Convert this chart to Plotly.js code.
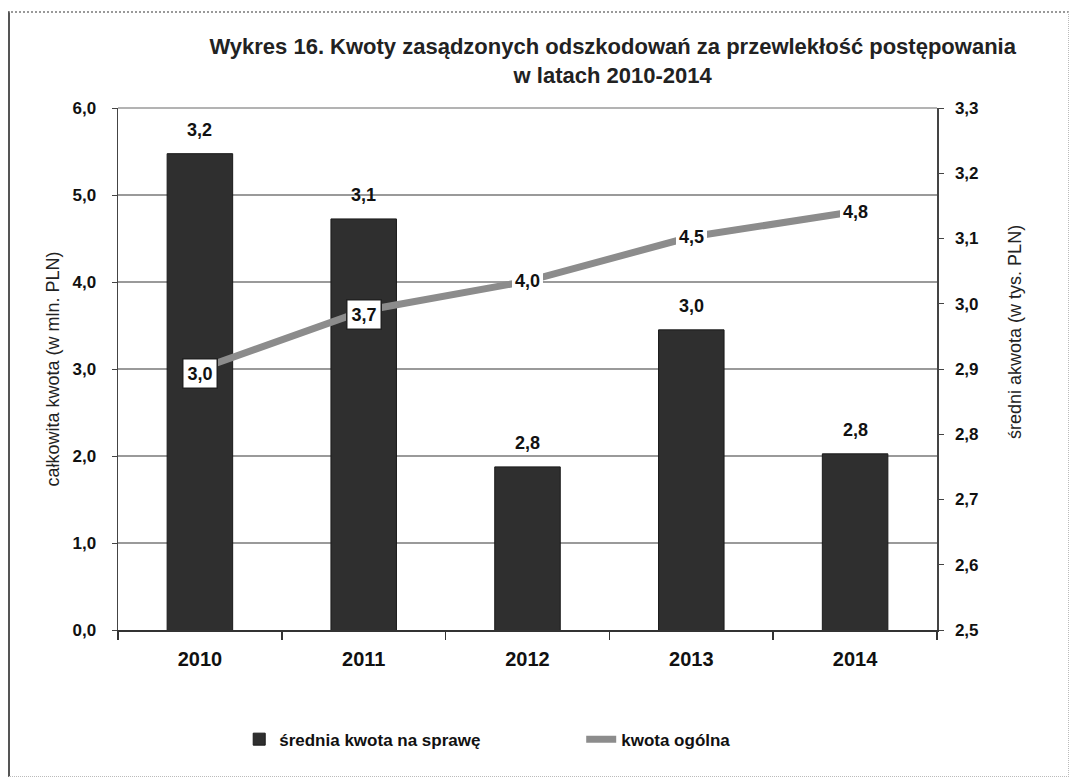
<!DOCTYPE html>
<html>
<head>
<meta charset="utf-8">
<script src="https://cdn.plot.ly/plotly-3.0.1.min.js"></script>
<style>
  html, body { margin: 0; padding: 0; background: #fff; }
  #wrap { position: relative; width: 1074px; height: 782px; }
  #chart { position: absolute; left: 0; top: 0; width: 1074px; height: 782px; }
  #frame { position: absolute; left: 8px; top: 11px; width: 1058px; height: 763px;
           border-left: 2px solid #555; border-top: 2px dotted #999; border-right: 1px dotted #bbb; border-bottom: 1px dotted #bbb; pointer-events: none; }
</style>
</head>
<body>
<div id="wrap">
<div id="chart"></div>
<div id="frame"></div>
</div>
<script>
// Data
const years = ['2010', '2011', '2012', '2013', '2014'];
const sredniaKwota = [3.23, 3.13, 2.75, 2.96, 2.77];   // right axis, tys. PLN
const kwotaOgolna = [3.0, 3.67, 4.01, 4.52, 4.81];     // left axis, mln PLN
const leftTicks = [0, 1, 2, 3, 4, 5, 6];
const rightTicks = [2.5, 2.6, 2.7, 2.8, 2.9, 3.0, 3.1, 3.2, 3.3];
const boxedLabels = [true, true, false, false, false];

const FONT = '"Liberation Sans", Arial, sans-serif';

function fmt(v) { return v.toFixed(1).replace('.', ','); }

const bars = {
  type: 'bar',
  name: 'średnia kwota na sprawę',
  x: years,
  y: sredniaKwota,
  yaxis: 'y',
  marker: { color: '#2f2f2f', line: { color: '#1a1a1a', width: 1 } },
  hoverinfo: 'skip'
};

const line = {
  type: 'scatter',
  mode: 'lines',
  name: 'kwota ogólna',
  x: years,
  y: kwotaOgolna,
  yaxis: 'y2',
  line: { color: '#8c8c8c', width: 7 },
  hoverinfo: 'skip'
};

// on a category axis annotation positions are category indices
const annotations = [];
years.forEach((yr, i) => {
  annotations.push({
    x: i, y: sredniaKwota[i], xref: 'x', yref: 'y',
    text: '<b>' + fmt(sredniaKwota[i]) + '</b>',
    showarrow: false, yanchor: 'middle', yshift: 24,
    font: { family: FONT, size: 18, color: '#111' }
  });
  annotations.push({
    x: i, y: kwotaOgolna[i], xref: 'x', yref: 'y2',
    text: '<b>' + fmt(kwotaOgolna[i]) + '</b>',
    showarrow: false,
    yshift: boxedLabels[i] ? -4 : 0,
    font: { family: FONT, size: 18, color: '#111' },
    bgcolor: '#ffffff',
    bordercolor: boxedLabels[i] ? '#222' : 'rgba(0,0,0,0)',
    borderwidth: boxedLabels[i] ? 1.5 : 0,
    borderpad: boxedLabels[i] ? 4 : 3
  });
});

annotations.push({
  xref: 'paper', yref: 'paper',
  x: 1 + (1015 - 937) / 819, y: 0.571,
  xanchor: 'center', yanchor: 'middle',
  textangle: -90,
  text: 'średni akwota (w tys. PLN)',
  showarrow: false,
  font: { family: FONT, size: 18, color: '#222' }
});

const layout = {
  width: 1074, height: 782,
  margin: { l: 118, r: 137, t: 108, b: 152, pad: 0 },
  paper_bgcolor: '#fff', plot_bgcolor: '#fff',
  showlegend: true,
  bargap: 0.6,
  title: {
    text: '<b>Wykres 16. Kwoty zasądzonych odszkodowań za przewlekłość postępowania<br>w latach 2010-2014</b>',
    font: { family: FONT, size: 22, color: '#222' },
    x: 0.604, xanchor: 'center', xref: 'paper',
    y: 0.931, yanchor: 'top', yref: 'container'
  },
  xaxis: {
    type: 'category',
    showline: true, linecolor: '#333', linewidth: 1.5,
    ticks: 'outside', ticklen: 8, tickcolor: '#333', tickwidth: 1.5,
    tickson: 'boundaries',
    ticklabelstandoff: 10,
    tickfont: { family: FONT, size: 20, color: '#111', weight: 'bold' },
    showgrid: false
  },
  yaxis: {
    side: 'right',
    range: [2.5, 3.3],
    tickvals: rightTicks,
    ticktext: rightTicks.map(fmt),
    showgrid: false, zeroline: false,
    showline: true, linecolor: '#444', linewidth: 1.5,
    ticks: 'outside', ticklen: 5, tickcolor: '#444',
    ticklabelstandoff: 8,
    tickfont: { family: FONT, size: 17, color: '#111', weight: 'bold' }
  },
  yaxis2: {
    overlaying: 'y', side: 'left',
    range: [0, 6],
    tickvals: leftTicks,
    ticktext: leftTicks.map(fmt),
    showgrid: true, gridcolor: '#9a9a9a', gridwidth: 1.5,
    zeroline: false,
    showline: true, linecolor: '#444', linewidth: 1.5,
    ticks: 'outside', ticklen: 5, tickcolor: '#444',
    ticklabelstandoff: 12,
    tickfont: { family: FONT, size: 17, color: '#111', weight: 'bold' },
    title: { text: 'całkowita kwota (w mln. PLN)', font: { family: FONT, size: 18, color: '#222' }, standoff: 8 }
  },
  shapes: [{
    type: 'line', xref: 'paper', yref: 'paper', x0: 0, x1: 1, y0: 1, y1: 1,
    line: { color: '#9a9a9a', width: 1.5 }, layer: 'below'
  }],
  legend: {
    orientation: 'h',
    x: 0.148, xanchor: 'left',
    y: -0.21, yanchor: 'middle',
    entrywidth: 297,
    font: { family: FONT, size: 17, color: '#111', weight: 'bold' },
    bgcolor: 'rgba(0,0,0,0)'
  },
  annotations: annotations
};

Plotly.newPlot('chart', [bars, line], layout, { displayModeBar: false, staticPlot: true });
</script>
</body>
</html>
